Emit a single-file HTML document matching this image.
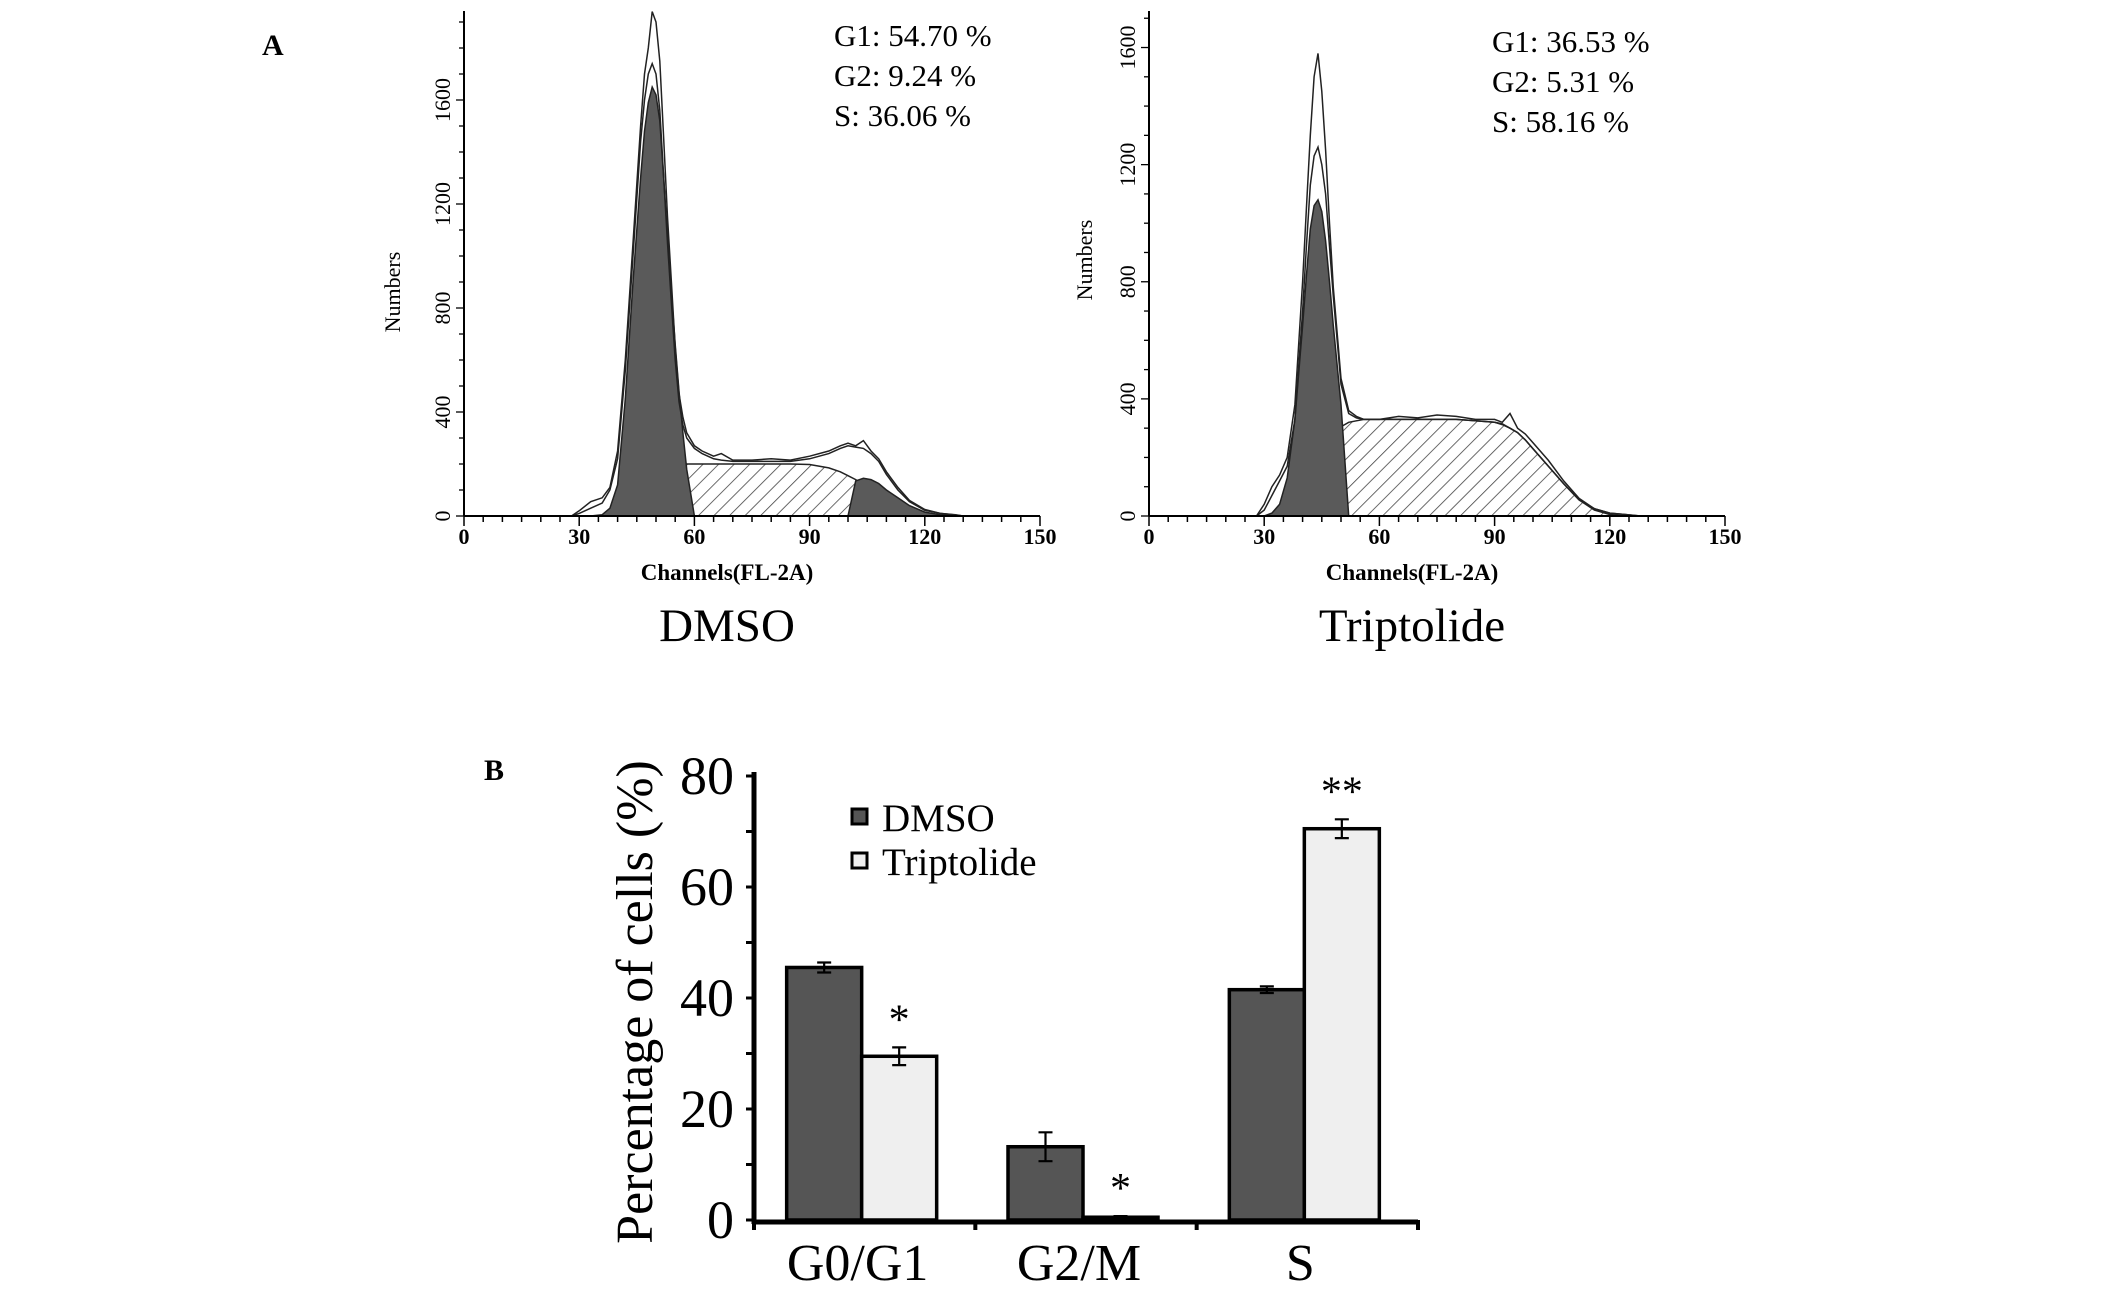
<!DOCTYPE html>
<html><head><meta charset="utf-8">
<style>
html,body{margin:0;padding:0;background:#fff;}
svg{display:block;font-family:"Liberation Serif",serif;}
</style></head>
<body>
<svg id="fig" width="2126" height="1289" viewBox="0 0 2126 1289" xmlns="http://www.w3.org/2000/svg">
<defs>
<pattern id="hatch" patternUnits="userSpaceOnUse" width="11" height="11" patternTransform="rotate(45)">
<rect width="11" height="11" fill="#fff"/>
<line x1="0" y1="0" x2="0" y2="11" stroke="#444" stroke-width="1.6"/>
</pattern>
</defs>
<text x="262" y="55" font-size="30" font-weight="bold">A</text>
<text x="484" y="780" font-size="30" font-weight="bold">B</text>
<g id="histA"></g>
<g id="barB"></g>
</svg>
<script>
// ---- Histogram data (channel, count) ----
const dmsoChannels = [28,30,33,36,38,40,42,44,46,47,48,49,50,51,52,53,54,55,56,57,58,60,62,65,67,70,75,80,85,90,95,98,100,102,104,106,108,110,113,116,120,124,128,130];
const dmsoRaw      = [0,20,55,70,110,250,600,1050,1500,1700,1800,1940,1900,1750,1450,1150,900,650,470,380,320,270,250,230,240,215,215,220,215,230,250,270,280,270,290,250,220,170,110,60,25,10,5,0];
const dmsoFit      = [0,10,30,50,100,220,560,1000,1440,1600,1700,1740,1700,1560,1300,1050,820,600,440,350,300,260,240,220,215,210,210,210,210,220,240,260,270,265,260,240,210,160,100,55,22,10,4,0];
const dmsoG1       = [0,0,0,5,30,120,450,900,1300,1480,1590,1650,1620,1520,1300,1080,860,660,480,320,180,0,0,0,0,0,0,0,0,0,0,0,0,0,0,0,0,0,0,0,0,0,0,0];
const dmsoS        = [0,0,0,0,5,15,30,50,80,100,120,140,160,175,185,195,200,200,200,200,200,200,200,200,200,200,200,200,200,198,185,170,155,140,120,100,80,60,35,15,3,0,0,0];
const dmsoG2       = [0,0,0,0,0,0,0,0,0,0,0,0,0,0,0,0,0,0,0,0,0,0,0,0,0,0,0,0,0,0,0,0,0,135,145,140,125,100,70,40,15,5,2,0];
const tripChannels = [28,30,32,34,36,38,40,41,42,43,44,45,46,47,48,50,52,54,56,60,65,70,75,80,85,90,92,94,96,98,100,104,108,112,116,120,124,128];
const tripRaw      = [0,40,100,140,200,380,800,1050,1300,1500,1580,1450,1250,1000,780,470,360,340,330,330,340,335,345,340,330,330,320,350,300,280,250,190,120,60,25,10,5,0];
const tripFit      = [0,20,70,120,170,330,700,920,1130,1230,1260,1200,1100,920,750,450,350,335,330,330,330,330,330,330,325,320,315,300,285,260,230,170,110,55,25,10,5,0];
const tripG1       = [0,0,10,40,130,330,650,820,980,1060,1080,1040,940,800,650,380,0,0,0,0,0,0,0,0,0,0,0,0,0,0,0,0,0,0,0,0,0,0];
const tripS        = [0,0,0,5,15,50,90,115,140,165,190,215,240,265,285,305,320,325,330,330,330,330,330,330,325,320,312,300,285,260,230,170,110,55,20,5,0,0];
const yTicksHist = [0,400,800,1200,1600];
const xTicksHist = [0,30,60,90,120,150];

const NS = "http://www.w3.org/2000/svg";
function mk(tag, attrs, parent){const e=document.createElementNS(NS,tag);for(const k in attrs)e.setAttribute(k,attrs[k]);parent.appendChild(e);return e;}

function histogram(g, cfg){
  const xs = c => cfg.x0 + (c/150)*(cfg.x1-cfg.x0);
  const ys = v => cfg.y0 - v*cfg.k;
  const ch = cfg.ch;
  function area(vals, fill, name){
    let d = "M"+xs(ch[0])+","+ys(0);
    ch.forEach((c,i)=>{d+=" L"+xs(c).toFixed(1)+","+ys(vals[i]).toFixed(1);});
    d+=" L"+xs(ch[ch.length-1])+","+ys(0)+" Z";
    const p = mk("path",{d:d,fill:fill,stroke:"#222","stroke-width":1.5},g);
    
    
  }
  function line(vals, name){
    let d="";
    ch.forEach((c,i)=>{d+=(i?" L":"M")+xs(c).toFixed(1)+","+ys(vals[i]).toFixed(1);});
    const p = mk("path",{d:d,fill:"none",stroke:"#222","stroke-width":1.5},g);
    
    
  }
  area(cfg.S,"url(#hatch)",cfg.pre+"-s-phase-area");
  area(cfg.G1,"#5a5a5a",cfg.pre+"-g1-area");
  if(cfg.G2) area(cfg.G2,"#5a5a5a",cfg.pre+"-g2-area");
  line(cfg.fit,cfg.pre+"-fit-line");
  line(cfg.raw,cfg.pre+"-raw-line");
  const ax = mk("line",{x1:cfg.x0,y1:cfg.y0,x2:cfg.x1,y2:cfg.y0,stroke:"#000","stroke-width":2},g);
  
  
  const ay = mk("line",{x1:cfg.x0,y1:cfg.y0,x2:cfg.x0,y2:11,stroke:"#000","stroke-width":2},g);
  
  
  for(let c=0;c<=150;c+=5){
    const major = c%30===0;
    mk("line",{x1:xs(c),y1:cfg.y0,x2:xs(c),y2:cfg.y0+(major?10:6),stroke:"#000","stroke-width":1.5},g);
  }
  for(let v=0; ys(v)>=14; v+=100){
    const major = v%400===0;
    mk("line",{x1:cfg.x0,y1:ys(v),x2:cfg.x0-(major?8:5),y2:ys(v),stroke:"#000","stroke-width":1.3},g);
  }
  xTicksHist.forEach(t=>{
    const e = mk("text",{x:xs(t),y:cfg.y0+28,"font-size":22,"font-weight":"bold","text-anchor":"middle"},g);
    e.textContent=t;
    
    
  });
  yTicksHist.forEach(t=>{
    const e = mk("text",{x:0,y:0,"font-size":22,"text-anchor":"middle",transform:`translate(${cfg.x0-14},${ys(t)}) rotate(-90)`},g);
    e.textContent=t;
    
    
  });
  const yt = mk("text",{x:0,y:0,"font-size":22,"text-anchor":"middle",transform:`translate(${cfg.ytx},${cfg.yty}) rotate(-90)`},g);
  yt.textContent="Numbers";
  
  
  const xt = mk("text",{x:(cfg.x0+cfg.x1)/2-25,y:580,"font-size":23,"font-weight":"bold","text-anchor":"middle"},g);
  xt.textContent="Channels(FL-2A)";
  
  
  const tt = mk("text",{x:(cfg.x0+cfg.x1)/2-25,y:641,"font-size":47,"text-anchor":"middle"},g);
  tt.textContent=cfg.title;
  
  
  cfg.notes.forEach((n,i)=>{
    const e = mk("text",{x:cfg.nx,y:cfg.ny+i*40,"font-size":31},g);
    e.textContent=n;
    
    
  });
}
const gA = document.getElementById("histA");
histogram(gA,{pre:"dmso",x0:464,x1:1040,y0:516,k:0.260,ch:dmsoChannels,raw:dmsoRaw,fit:dmsoFit,G1:dmsoG1,S:dmsoS,G2:dmsoG2,
  ytx:400,yty:292,title:"DMSO",notes:["G1: 54.70 %","G2: 9.24 %","S: 36.06 %"],nx:834,ny:46});
histogram(gA,{pre:"triptolide",x0:1149,x1:1725,y0:516,k:0.2928,ch:tripChannels,raw:tripRaw,fit:tripFit,G1:tripG1,S:tripS,G2:null,
  ytx:1092,yty:260,title:"Triptolide",notes:["G1: 36.53 %","G2: 5.31 %","S: 58.16 %"],nx:1492,ny:52});

// ---- Bar chart data ----
const categories = ["G0/G1","G2/M","S"];
const dmsoValues = [45.5,13.2,41.5];
const dmsoErrors = [0.9,2.6,0.6];
const tripValues = [29.5,0.5,70.5];
const tripErrors = [1.6,0.2,1.7];
const tripMarks  = ["*","*","**"];
const yTicksBar  = [0,20,40,60,80];

const gB = document.getElementById("barB");
const bx0=754, bx1=1418, by0=1220, byTop=776;
const yB = v => by0 - (v/80)*(by0-byTop);
const groupW = (bx1-bx0)/categories.length;
const barW = 75;
const cx = i => bx0 + groupW*(i+0.5) - 3;
categories.forEach((c,i)=>{
  [[dmsoValues,dmsoErrors,"#555","dmso"],[tripValues,tripErrors,"#efefef","triptolide"]].forEach((s,j)=>{
    const v=s[0][i], e=s[1][i];
    const x = cx(i) - barW + j*barW;
    const r = mk("rect",{x:x,y:yB(v),width:barW,height:by0-yB(v),fill:s[2],stroke:"#000","stroke-width":3.5},gB);
    
    
    const mx = x+barW/2;
    const eb = mk("path",{d:`M${mx},${yB(v+e)} V${yB(v-e)} M${mx-7},${yB(v+e)} H${mx+7} M${mx-7},${yB(v-e)} H${mx+7}`,stroke:"#000","stroke-width":2.2,fill:"none"},gB);
    
    
    if(j===1){
      const st = mk("text",{x:mx,y:yB(v+e)-14,"font-size":42,"text-anchor":"middle"},gB);
      st.textContent=tripMarks[i];
      
      
    }
  });
  const lab = mk("text",{x:cx(i)-4,y:1280,"font-size":52,"text-anchor":"middle"},gB);
  lab.textContent=c;
  
  
});
const xa = mk("line",{x1:bx0,y1:by0+2,x2:bx1,y2:by0+2,stroke:"#000","stroke-width":5},gB);


for(let i=0;i<=3;i++) mk("line",{x1:bx0+groupW*i,y1:by0,x2:bx0+groupW*i,y2:by0+10,stroke:"#000","stroke-width":4},gB);
const ya = mk("line",{x1:bx0,y1:byTop-4,x2:bx0,y2:by0+4,stroke:"#000","stroke-width":5},gB);


for(let v=0;v<=80;v+=10) mk("line",{x1:bx0-8,y1:yB(v),x2:bx0,y2:yB(v),stroke:"#000","stroke-width":3},gB);
yTicksBar.forEach(t=>{
  const e = mk("text",{x:bx0-20,y:yB(t)+18,"font-size":54,"text-anchor":"end"},gB);
  e.textContent=t;
  
  
});
const ytB = mk("text",{x:0,y:0,"font-size":52,"text-anchor":"middle",transform:"translate(652,1002) rotate(-90)"},gB);
ytB.textContent="Percentage of  cells (%)";


[["DMSO","#555",819],["Triptolide","#efefef",863]].forEach(l=>{
  const r = mk("rect",{x:852,y:l[2]-10,width:15,height:15,fill:l[1],stroke:"#000","stroke-width":3},gB);
  
  
  const t = mk("text",{x:882,y:l[2]+12,"font-size":39},gB);
  t.textContent=l[0];
  
  
});
</script>
</body></html>
